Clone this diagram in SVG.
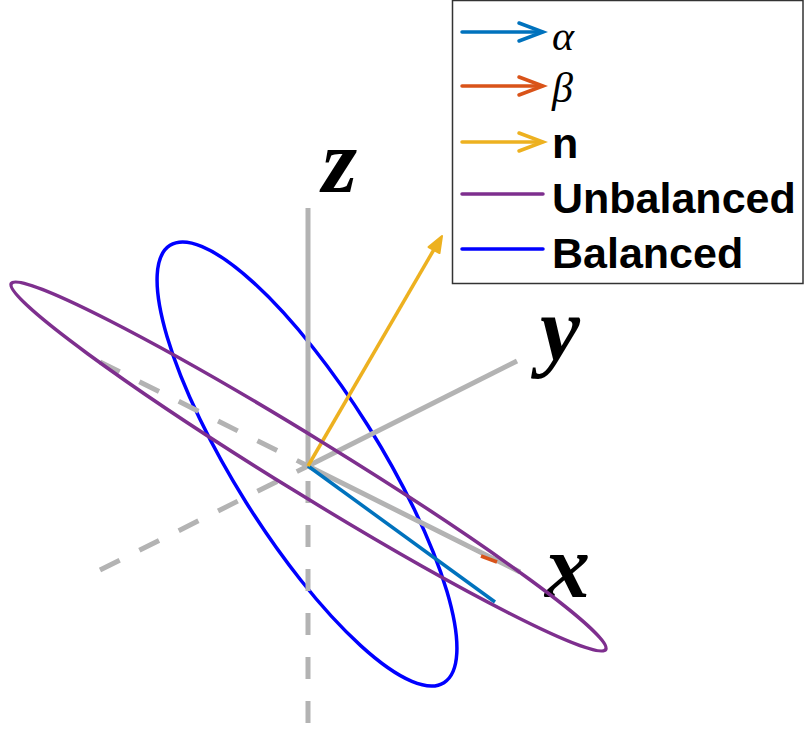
<svg xmlns="http://www.w3.org/2000/svg" width="804" height="729" viewBox="0 0 804 729">
<style>
.axis{stroke:#b3b3b3;stroke-width:5;fill:none}
.dash{stroke-dasharray:22 22}
.lbl{font-family:"Liberation Serif","DejaVu Serif",serif;font-style:italic;font-weight:bold;font-size:90px;fill:#000}
.leg{font-family:"Liberation Sans",Arial,sans-serif;font-weight:bold;font-size:43px;fill:#000}
.greek{font-family:"Liberation Serif","DejaVu Serif",serif;font-style:italic;font-size:42px;fill:#000}
</style>
<rect width="804" height="729" fill="#fff"/>
<g id="balanced">
<ellipse cx="307" cy="464" rx="258" ry="72" transform="rotate(57.94 307 464)" fill="none" stroke="#0000ff" stroke-width="3.5"/>
</g>
<g id="axes">
<line class="axis dash" x1="308" y1="723" x2="308" y2="466"/>
<line class="axis dash" x1="100" y1="362" x2="308" y2="466"/>
<line class="axis dash" x1="100" y1="570" x2="308" y2="466"/>
<line x1="308" y1="466" x2="497" y2="561" stroke="#D95319" stroke-width="3"/>
<line class="axis" x1="308" y1="466" x2="308" y2="208"/>
<line class="axis" x1="308" y1="466" x2="517" y2="361"/>
<line class="axis" x1="308" y1="466" x2="520" y2="572"/>
<text class="lbl" x="322" y="192">z</text>
<text class="lbl" x="540" y="360">y</text>
<text class="lbl" x="545" y="597">x</text>
</g>
<g id="vectors">
<line x1="308" y1="466" x2="495" y2="602" stroke="#0072BD" stroke-width="3.5"/>
<line x1="481" y1="556" x2="497" y2="562" stroke="#D95319" stroke-width="3.5"/>
<line x1="308" y1="466" x2="436" y2="246" stroke="#EDB120" stroke-width="3.5"/>
<polygon points="442,236 439.5,253 428.5,247" fill="#EDB120" stroke="#EDB120" stroke-width="2" stroke-linejoin="round"/>
</g>
<g id="unbalanced">
<ellipse cx="308.5" cy="466.5" rx="349" ry="28" transform="rotate(31.62 308.5 466.5)" fill="none" stroke="#7E2F8E" stroke-width="3.5"/>
</g>
<g id="legend">
<rect x="452.5" y="0.5" width="350.5" height="283" fill="#fff" stroke="#333" stroke-width="1.5"/>
<g stroke-width="3.5" fill="none" stroke-linecap="round">
<line x1="462" y1="32" x2="542" y2="32" stroke="#0072BD"/>
<path d="M519,23 L543,32 L519,41" stroke="#0072BD"/>
<line x1="462" y1="86" x2="542" y2="86" stroke="#D95319"/>
<path d="M519,77 L543,86 L519,95" stroke="#D95319"/>
<line x1="462" y1="142" x2="542" y2="142" stroke="#EDB120"/>
<path d="M519,133 L543,142 L519,151" stroke="#EDB120"/>
<line x1="462" y1="194" x2="543" y2="194" stroke="#7E2F8E"/>
<line x1="462" y1="249" x2="543" y2="249" stroke="#0000ff"/>
</g>
<text class="greek" x="552" y="50">α</text>
<text class="greek" x="552" y="102">β</text>
<text class="leg" x="552" y="158">n</text>
<text class="leg" x="552" y="213">Unbalanced</text>
<text class="leg" x="552" y="268">Balanced</text>
</g>
</svg>
